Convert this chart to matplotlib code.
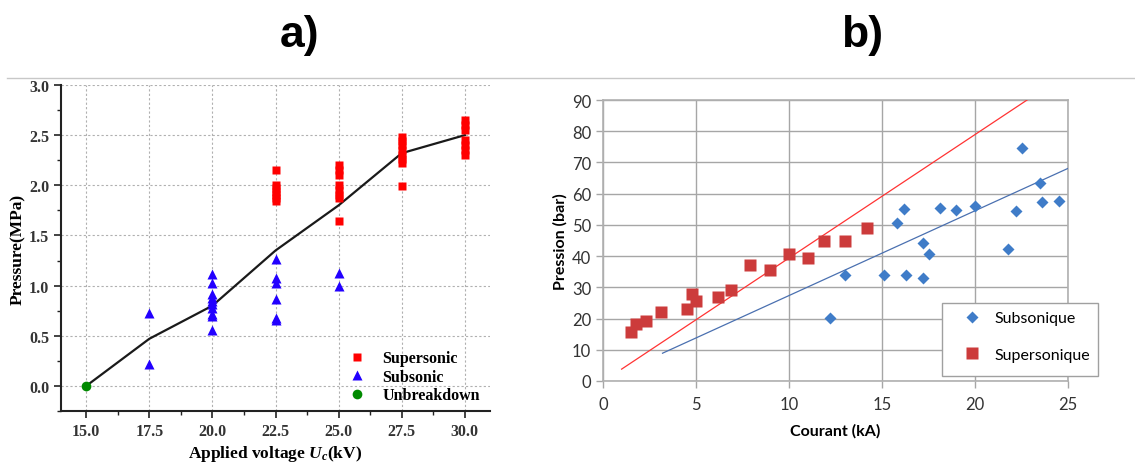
import numpy as np
import matplotlib
matplotlib.use('Agg')
import matplotlib.pyplot as plt
from matplotlib.ticker import MultipleLocator, FormatStrFormatter
from matplotlib.lines import Line2D
from matplotlib.patches import Rectangle

# ---- panel a) data ----
trend_v = [15.0, 17.5, 20.0, 22.5, 25.0, 27.5, 30.0]
trend_p = [0.0, 0.47, 0.80, 1.35, 1.80, 2.32, 2.50]

super_v = [22.5] * 7 + [25.0] * 8 + [27.5] * 8 + [30.0] * 7
super_p = [2.15, 2.00, 1.97, 1.93, 1.90, 1.87, 1.84,
           2.20, 2.15, 2.10, 2.00, 1.95, 1.90, 1.87, 1.64,
           2.48, 2.44, 2.40, 2.35, 2.30, 2.26, 2.22, 1.99,
           2.65, 2.60, 2.55, 2.45, 2.40, 2.35, 2.30]

sub_v = [17.5] * 2 + [20.0] * 10 + [22.5] * 6 + [25.0] * 2
sub_p = [0.73, 0.22,
         1.12, 1.03, 0.92, 0.88, 0.85, 0.82, 0.78, 0.72, 0.70, 0.56,
         1.27, 1.08, 1.03, 0.87, 0.68, 0.66,
         1.13, 1.00]

unb_v = [15.0]
unb_p = [0.0]

# ---- panel b) data ----
supers_i = [1.5, 1.8, 2.3, 3.1, 4.5, 4.8, 5.0, 6.2, 6.9, 7.9, 9.0, 10.0, 11.0, 11.9, 13.0, 14.2]
supers_p = [15.7, 18.1, 19.2, 22.0, 23.0, 28.0, 25.6, 26.9, 29.3, 37.0, 35.6, 40.7, 39.4, 44.8, 44.8, 49.1]

subs_i = [12.2, 13.0, 15.1, 15.8, 16.2, 16.3, 17.2, 17.2, 17.5, 18.1, 19.0, 20.0, 21.8, 22.2, 22.5, 23.5, 23.6, 24.5]
subs_p = [20.2, 33.8, 33.8, 50.5, 55.1, 34.0, 44.1, 32.9, 40.6, 55.5, 54.7, 56.1, 42.3, 54.4, 74.7, 63.5, 57.4, 57.6]

# trend lines (end points)
red_fit_i = [1.0, 22.8]
red_fit_p = [3.8, 90.0]
blue_fit_i = [3.2, 25.0]
blue_fit_p = [8.9, 68.1]

plt.rcParams['mathtext.fontset'] = 'custom'
plt.rcParams['mathtext.it'] = 'Liberation Serif:italic:bold'
plt.rcParams['mathtext.rm'] = 'Liberation Serif:bold'

fig = plt.figure(figsize=(11.35, 4.64), dpi=100)

# titles and separator line
fig.text(300 / 1135, 1 - 35 / 464, 'a)', ha='center', va='center',
         family='Liberation Sans', weight='bold', fontsize=32)
fig.text(862 / 1135, 1 - 35 / 464, 'b)', ha='center', va='center',
         family='Liberation Sans', weight='bold', fontsize=32)
fig.add_artist(Line2D([7 / 1135, 1.0], [1 - 79 / 464] * 2, color='#c8c8c8', lw=1))

# ---------------- panel a ----------------
serif = 'Liberation Serif'
ax1 = fig.add_axes([61 / 1135, 1 - 412 / 464, (490 - 61) / 1135, (412 - 86) / 464])
ax1.plot(trend_v, trend_p, color='#1a1a1a', lw=1.6, zorder=3)
ax1.plot(super_v, super_p, 's', color='#ff0000', ms=5.5, mec='none', zorder=4, label='Supersonic')
ax1.plot(sub_v, sub_p, '^', color='#2200ff', ms=7, mec='none', zorder=4, label='Subsonic')
ax1.plot(unb_v, unb_p, 'o', color='#008a00', ms=7, mec='none', zorder=4, label='Unbreakdown')

ax1.set_xlim(14.0, 31.0)
ax1.set_ylim(-0.25, 3.0)
ax1.xaxis.set_major_locator(MultipleLocator(2.5))
ax1.xaxis.set_minor_locator(MultipleLocator(1.25))
ax1.yaxis.set_major_locator(MultipleLocator(0.5))
ax1.yaxis.set_minor_locator(MultipleLocator(0.25))
ax1.xaxis.set_major_formatter(FormatStrFormatter('%.1f'))
ax1.yaxis.set_major_formatter(FormatStrFormatter('%.1f'))
ax1.grid(True, which='major', linestyle=(0, (2, 2)), color='#b0b0b0', lw=0.8)
for s in ['top', 'right']:
    ax1.spines[s].set_visible(False)
for s in ['left', 'bottom']:
    ax1.spines[s].set_linewidth(1.5)
    ax1.spines[s].set_color('#222222')
ax1.tick_params(which='major', direction='out', length=5, width=1.2, color='#222222',
                labelsize=11.5, labelfontfamily=serif, labelcolor='#333333')
ax1.tick_params(which='minor', direction='out', length=3, width=1.0, color='#222222')
ax1.set_xlabel(r'Applied voltage $U_c$(kV)', family=serif, weight='bold', fontsize=12.5, labelpad=3)
ax1.set_ylabel('Pressure(MPa)', family=serif, weight='bold', fontsize=12.5, labelpad=2)
ax1.legend(loc='lower right', bbox_to_anchor=(1.01, -0.02), frameon=False,
           prop={'family': serif, 'weight': 'bold', 'size': 11.5},
           handletextpad=1.0, labelspacing=0.15, markerscale=1.0, handlelength=1.2)

# ---------------- panel b ----------------
sans = 'Lato'
ax2 = fig.add_axes([603 / 1135, 1 - 382 / 464, (1068 - 603) / 1135, (382 - 101) / 464])
ax2.plot(red_fit_i, red_fit_p, color='#ff3333', lw=0.9, zorder=3)
ax2.plot(blue_fit_i, blue_fit_p, color='#4a70b0', lw=0.9, zorder=3)
ax2.plot(subs_i, subs_p, 'D', color='#3f7cc8', ms=6, mec='none', zorder=4, label='Subsonique')
ax2.plot(supers_i, supers_p, 's', color='#cc3b3b', ms=8, mec='none', zorder=4, label='Supersonique')

ax2.set_xlim(0, 25)
ax2.set_ylim(0, 90)
ax2.xaxis.set_major_locator(MultipleLocator(5))
ax2.yaxis.set_major_locator(MultipleLocator(10))
ax2.grid(True, color='#a6a6a6', lw=1.0)
ax2.set_axisbelow(True)
for s in ax2.spines.values():
    s.set_color('#b0b0b0')
    s.set_linewidth(1.2)
ax2.tick_params(direction='out', length=5, width=1, color='#a6a6a6', labelsize=12,
                labelcolor='#333333', labelfontfamily=sans)
ax2.tick_params(axis='x', pad=6)
ax2.set_xlabel('Courant (kA)', family=sans, weight='bold', fontsize=11.5, labelpad=8)
ax2.set_ylabel('Pression (bar)', family=sans, weight='bold', fontsize=11.5, labelpad=3)

# legend box: frame drawn separately so it can be taller than the entries
box_x, box_y, box_w, box_h = 0.729, 0.018, 0.335, 0.26
ax2.add_patch(Rectangle((box_x, box_y), box_w, box_h, transform=ax2.transAxes,
                        facecolor='white', edgecolor='#a0a0a0', lw=1.0, zorder=5,
                        clip_on=False))
leg = ax2.legend(loc='upper left', bbox_to_anchor=(box_x + 0.01, box_y + box_h + 0.005),
                 prop={'family': sans, 'size': 11.5}, frameon=False,
                 borderpad=0.1, labelspacing=1.4, handletextpad=0.4, handlelength=2.0)
leg.set_zorder(6)

# bold tick labels on panel a (after the ticks exist)
fig.canvas.draw()
for lab in ax1.get_xticklabels() + ax1.get_yticklabels():
    lab.set_fontweight('bold')

fig.savefig('out.png', dpi=100)
